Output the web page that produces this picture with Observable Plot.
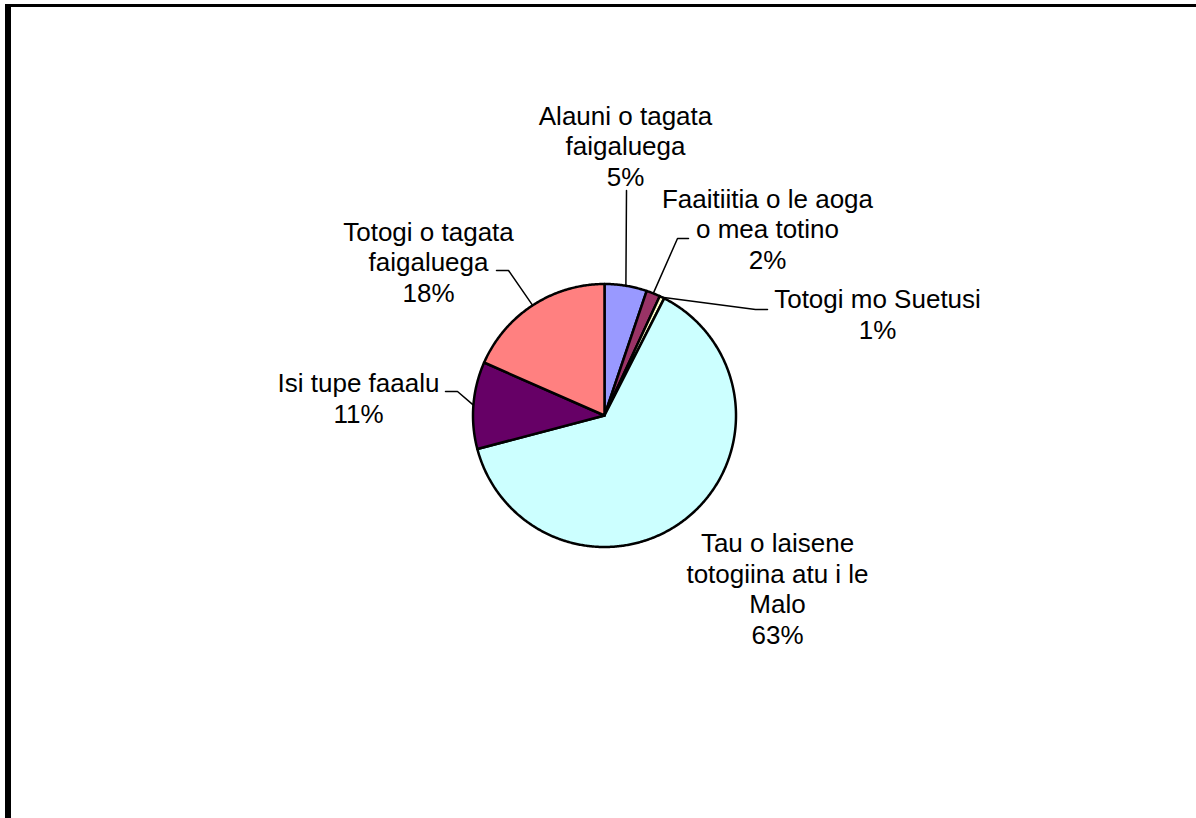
<!DOCTYPE html>
<html>
<head>
<meta charset="utf-8">
<script src="https://cdn.jsdelivr.net/npm/d3@7"></script>
<script src="https://cdn.jsdelivr.net/npm/@observablehq/plot@0.6"></script>
<style>
  html, body { margin: 0; padding: 0; background: #fff; }
  #wrap { position: relative; width: 1196px; height: 818px; overflow: hidden; }
  #frame { position: absolute; left: 5px; top: 4px; right: -10px; bottom: -10px;
           border-top: 3px solid #000; border-left: 6px solid #000; pointer-events: none; }
  #chart { position: absolute; left: 0; top: 0; }
</style>
</head>
<body>
<div id="wrap"><div id="chart"></div><div id="frame"></div></div>
<script>
// ---- data ----
const categories = [
  "Alauni o tagata faigaluega",
  "Faaitiitia o le aoga o mea totino",
  "Totogi mo Suetusi",
  "Tau o laisene totogiina atu i le Malo",
  "Isi tupe faaalu",
  "Totogi o tagata faigaluega"
];
const labelText = [
  "Alauni o tagata\nfaigaluega",
  "Faaitiitia o le aoga\no mea totino",
  "Totogi mo Suetusi",
  "Tau o laisene\ntotogiina atu i le\nMalo",
  "Isi tupe faaalu",
  "Totogi o tagata\nfaigaluega"
];
const values = [5.2, 1.7, 0.6, 63.4, 10.7, 18.4];
const colors = ["#9999FF", "#993366", "#FFFFCC", "#CCFFFF", "#660066", "#FF8080"];

// ---- layout (pixels relative to pie centre, y down) ----
const W = 1196, H = 818, CX = 604, CY = 415, R = 131.5;
const labelPos = [[21, -230], [163, -147], [273, -77], [173, 228], [-246, 7], [-176, -114]];
const leaderPts = [
  [[22, -225]],
  [[84, -177], [73, -177]],
  [[163, -106], [151, -106]],
  null,
  [[-159, -24], [-147, -24]],
  [[-108, -145], [-96, -145]]
];

const total = d3.sum(values);
let acc = 0;
const slices = values.map((v, i) => {
  const a0 = acc / total * 2 * Math.PI;
  acc += v;
  const a1 = acc / total * 2 * Math.PI;
  return {name: categories[i], i, a0, a1, mid: (a0 + a1) / 2, value: v};
});

// polygon points for each slice
const polyPts = [];
for (const s of slices) {
  polyPts.push({name: s.name, x: 0, y: 0});
  const n = Math.max(2, Math.ceil((s.a1 - s.a0) / (Math.PI / 360)));
  for (let k = 0; k <= n; k++) {
    const a = s.a0 + (s.a1 - s.a0) * k / n;
    polyPts.push({name: s.name, x: R * Math.sin(a), y: -R * Math.cos(a)});
  }
  polyPts.push({name: s.name, x: 0, y: 0});
}

// leader lines
const leaderData = [];
slices.forEach((s, i) => {
  if (!leaderPts[i]) return;
  for (const p of leaderPts[i]) leaderData.push({name: s.name, x: p[0], y: p[1]});
  leaderData.push({name: s.name, x: R * Math.sin(s.mid), y: -R * Math.cos(s.mid)});
});

const labels = slices.map((s, i) => ({
  x: labelPos[i][0], y: labelPos[i][1],
  text: labelText[i] + "\n" + Math.round(s.value / total * 100) + "%"
}));

const chart = Plot.plot({
  width: W, height: H,
  margin: 0,
  x: {domain: [-CX, W - CX], range: [0, W], axis: null},
  y: {domain: [-CY, H - CY], range: [0, H], axis: null},
  color: {domain: categories, range: colors},
  style: {background: "transparent"},
  marks: [
    Plot.line(polyPts, {x: "x", y: "y", z: "name", fill: "name", stroke: "#000",
      strokeWidth: 2.5, strokeLinejoin: "round", curve: "linear"}),
    Plot.line(leaderData, {x: "x", y: "y", z: "name", stroke: "#000", strokeWidth: 1.5}),
    Plot.text(labels, {x: "x", y: "y", text: "text", fontSize: 26, lineHeight: 1.17,
      lineAnchor: "bottom", textAnchor: "middle", fill: "#000",
      fontFamily: "'Liberation Sans', Arial, sans-serif"})
  ]
});
document.getElementById("chart").appendChild(chart);
</script>
</body>
</html>
